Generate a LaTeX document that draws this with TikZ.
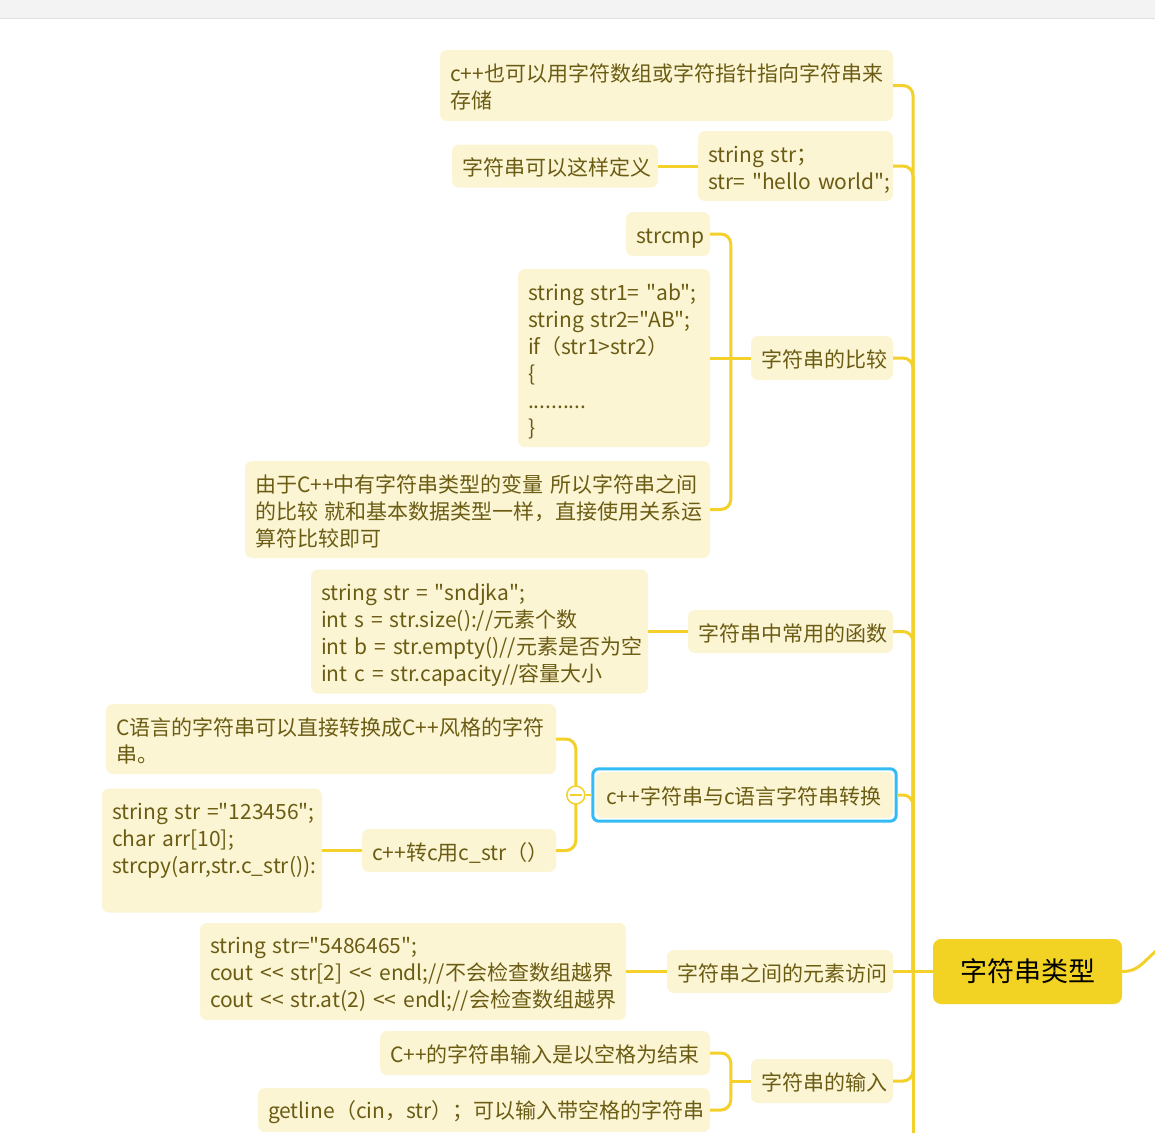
\documentclass[tikz,border=0pt]{standalone}
\usepackage{fontspec}
\setmainfont{Noto Sans CJK SC}[Ligatures=TeXOff]
\usetikzlibrary{calc}
\definecolor{boxfill}{HTML}{FCF5D4}
\definecolor{txt}{HTML}{6B5C14}
\definecolor{linec}{HTML}{F3D02A}
\definecolor{rootfill}{HTML}{F2D324}
\definecolor{selblue}{HTML}{33BBF5}
\definecolor{hdr}{HTML}{F3F3F3}
\definecolor{hdrline}{HTML}{E0E0E0}
\newcommand\fs{\fontsize{21pt}{27pt}\selectfont}
\tikzset{
  box/.style={fill=boxfill, rounded corners=7pt, text=txt, inner xsep=10pt, inner ysep=0pt, align=left, font=\fs,
    execute at begin node={\rule{0pt}{23pt}}, execute at end node={\rule[-4pt]{0pt}{4pt}}},
  conn/.style={draw=linec, line width=3pt, rounded corners=10pt},
}
\begin{document}
\begin{tikzpicture}[x=1pt,y=-1pt]
\useasboundingbox (0,0) rectangle (1155,1133);
\fill[white] (0,0) rectangle (1155,1133);
\fill[hdr] (0,0) rectangle (1155,18);
\draw[hdrline, line width=1pt] (0,18.5) -- (1155,18.5);

% nodes
\node[box, text width=433pt, minimum height=71pt] (n1) at (666.5,85.5) {c++也可以用字符数组或字符指针指向字符串来\\存储};
\node[box, text width=186pt, minimum height=43pt] (def) at (555,166) {字符串可以这样定义};
\node[box, text width=175pt, minimum height=70pt] (defcode) at (795.5,166) {string~str；\\str=~"hello~world";};
\node[box, text width=64pt, minimum height=44pt] (strcmp) at (668,234) {strcmp};
\node[box, text width=172pt, minimum height=178pt] (cmpcode) at (614,358) {string~str1=~"ab";\\string~str2="AB";\\if（str1>str2）\\\{\\..........\\\}};
\node[box, text width=122pt, minimum height=44pt] (cmp) at (822,358) {字符串的比较};
\node[box, text width=445pt, minimum height=97pt] (expl) at (477.5,509.5) {由于C++中有字符串类型的变量~所以字符串之间\\的比较~就和基本数据类型一样，直接使用关系运\\算符比较即可};
\node[box, text width=317pt, minimum height=124pt] (fcode) at (479.5,631.5) {string~str~=~"sndjka";\\int~s~=~str.size()://元素个数\\int~b~=~str.empty()//元素是否为空\\int~c~=~str.capacity//容量大小};
\node[box, text width=185pt, minimum height=43pt] (funcs) at (790.5,631.5) {字符串中常用的函数};
\node[box, text width=430pt, minimum height=70pt] (cl) at (331,739) {C语言的字符串可以直接转换成C++风格的字符\\串。};
\node[box, text width=200pt, minimum height=124pt] (ccode) at (212,850.5) {string~str~="123456";\\char~arr[10];\\strcpy(arr,str.c\_str()):\\\mbox{}};
\node[box, text width=174pt, minimum height=43pt] (cstr) at (459,850.5) {c++转c用c\_str（）};
\node[box, text width=277pt, minimum height=46pt] (conv) at (744.5,795) {c++字符串与c语言字符串转换};
\node[box, text width=406pt, minimum height=97pt] (acode) at (413,971.5) {string~str="5486465";\\cout~<<~str[2]~<<~endl;//不会检查数组越界\\cout~<<~str.at(2)~<<~endl;//会检查数组越界};
\node[box, text width=206pt, minimum height=43pt] (access) at (780,971.5) {字符串之间的元素访问};
\node[box, text width=310pt, minimum height=44pt] (in1) at (545,1053) {C++的字符串输入是以空格为结束};
\node[box, text width=432pt, minimum height=44pt] (in2) at (484,1110) {getline（cin，str）；可以输入带空格的字符串};
\node[box, text width=122pt, minimum height=44pt] (input) at (822,1081) {字符串的输入};
\node[fill=rootfill, rounded corners=8pt, text=black, minimum width=189pt, minimum height=65pt, inner sep=0pt, font=\fontsize{27pt}{30pt}\selectfont] (root) at (1027.5,971.5) {字符串类型};

% selection outline
\draw[selblue, line width=3pt, rounded corners=6pt] ($(conv.north west)+(-3,-3)$) rectangle ($(conv.south east)+(3,3)$);

% trunk
\coordinate (tj) at (913,971.5);
\coordinate (tend) at (913,1133);
\coordinate (rout) at (1156,951);
\draw[conn] (n1.east) -| (tj);
\draw[conn] (defcode.east) -| (tj);
\draw[conn] (cmp.east) -| (tj);
\draw[conn] (funcs.east) -| (tj);
\draw[conn] ($(conv.east)+(4,0)$) -| (tj);
\draw[conn] (input.east) -| (tj);
\draw[conn] (tj) -- (tend);
\draw[conn] (access.east) -- (tj) -- (root.west);
\draw[conn] (root.east) .. controls +(16,0) and +(-14,12) .. (rout);

% sub-branches
\draw[conn] (def.east) -- (defcode.west);
\draw[conn] (strcmp.east) -| ($(cmp.west)+(-20,0)$) |- (expl.east);
\draw[conn] (cmpcode.east) -- (cmp.west);
\draw[conn] (fcode.east) -- (funcs.west);
\draw[conn] (cl.east) -| ($(conv.west)+(-20,0)$) |- (cstr.east);
\draw[conn] (cstr.west) -- (ccode.east);
\draw[conn] (acode.east) -- (access.west);
\draw[conn] (in1.east) -| ($(input.west)+(-20,0)$) |- (in2.east);
\draw[conn] (input.west) -- ++(-20,0);

% collapse toggle
\node[circle, draw=linec, fill=white, line width=1.5pt, minimum size=18pt, inner sep=0pt] (tog) at ($(conv.west)+(-20,0)$) {};
\draw[conn, line width=1.5pt] (tog) -- ($(conv.west)+(-4,0)$);
\draw[linec, line width=1.5pt] ([xshift=4pt]tog.west) -- ([xshift=-4pt]tog.east);
\end{tikzpicture}
\end{document}
